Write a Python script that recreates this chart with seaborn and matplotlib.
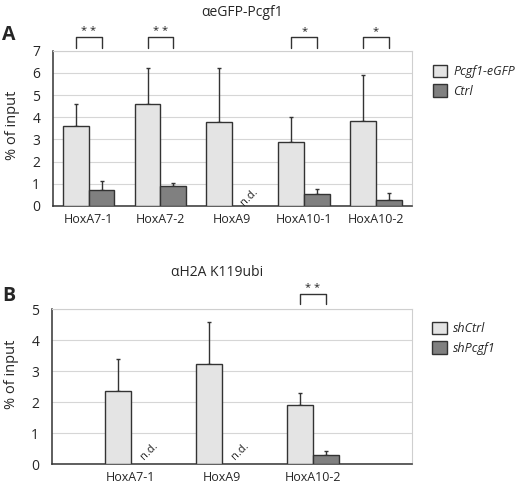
import numpy as np
import pandas as pd
import seaborn as sns
import matplotlib.pyplot as plt

# panel A: aeGFP-Pcgf1
genes_a = ['HoxA7-1', 'HoxA7-2', 'HoxA9', 'HoxA10-1', 'HoxA10-2']
pcgf1_egfp = [3.6, 4.62, 3.78, 2.9, 3.83]
pcgf1_egfp_err = [0.98, 1.58, 2.42, 1.1, 2.07]
ctrl = [0.73, 0.88, np.nan, 0.55, 0.28]
ctrl_err = [0.4, 0.17, np.nan, 0.2, 0.32]
stars_a = ['**', '**', '', '*', '*']

# panel B: aH2A K119ubi
genes_b = ['HoxA7-1', 'HoxA9', 'HoxA10-2']
shctrl = [2.37, 3.23, 1.9]
shctrl_err = [1.03, 1.37, 0.39]
shpcgf1 = [np.nan, np.nan, 0.28]
shpcgf1_err = [np.nan, np.nan, 0.13]
stars_b = ['', '', '**']

sns.set_style('white')
plt.rcParams['font.family'] = ['Open Sans', 'DejaVu Sans']

LIGHT = '#e4e4e4'
DARK = '#808080'
EDGE = '#333333'


def draw_panel(ax, genes, v1, e1, v2, e2, names, stars, ymax, width, xlim,
               br_lo, br_hi, nd_y, ylab_y):
    n = len(genes)
    df = pd.DataFrame({'gene': genes * 2,
                       'group': [names[0]] * n + [names[1]] * n,
                       'value': list(v1) + list(v2)})
    sns.barplot(data=df, x='gene', y='value', hue='group', hue_order=names,
                palette=[LIGHT, DARK], width=width, edgecolor=EDGE,
                linewidth=1, errorbar=None, ax=ax, zorder=3)
    x = np.arange(n)
    off = width / 4
    for xs, vals, errs in [(x - off, v1, e1), (x + off, v2, e2)]:
        vals = np.array(vals, dtype=float)
        errs = np.array(errs, dtype=float)
        ax.errorbar(xs, vals, yerr=[np.zeros(n), errs], fmt='none',
                    ecolor=EDGE, elinewidth=1, capsize=1.6, capthick=1,
                    zorder=2)
    # n.d. labels for missing bars
    for i in range(n):
        if np.isnan(v2[i]):
            ax.text(x[i] + off + 0.06, nd_y, 'n.d.', rotation=45, fontsize=8,
                    ha='center', va='center', color='#222222')
    # significance brackets
    for i, s in enumerate(stars):
        if not s:
            continue
        x0, x1 = x[i] - off, x[i] + off
        ax.plot([x0, x0, x1, x1], [br_lo, br_hi, br_hi, br_lo], color=EDGE,
                lw=1, clip_on=False)
        ax.text((x0 + x1) / 2, br_hi, ' '.join(s), ha='center', va='bottom',
                fontsize=8, color='#222222')

    ax.set_ylim(0, ymax)
    ax.set_xlim(*xlim)
    ax.set_yticks(range(ymax + 1))
    ax.set_xlabel('')
    ax.set_ylabel('% of input', fontsize=10.5)
    ax.yaxis.set_label_coords(-0.091, ylab_y)
    ax.tick_params(axis='y', length=0, pad=9, labelsize=10)
    ax.tick_params(axis='x', length=0, pad=5, labelsize=9)
    ax.set_axisbelow(True)
    ax.yaxis.grid(True, color='#d6d6d6', lw=0.8)
    for side in ['top', 'right']:
        ax.spines[side].set_color('#cfcfcf')
        ax.spines[side].set_linewidth(0.8)
    for side in ['left', 'bottom']:
        ax.spines[side].set_color(EDGE)
        ax.spines[side].set_linewidth(1.1)


fig = plt.figure(figsize=(5.2, 4.83), dpi=100)
ax_a = fig.add_axes([0.1013, 0.5735, 0.691, 0.3215])
ax_b = fig.add_axes([0.0994, 0.0393, 0.693, 0.3203])

draw_panel(ax_a, genes_a, pcgf1_egfp, pcgf1_egfp_err, ctrl, ctrl_err,
           ['Pcgf1-eGFP', 'Ctrl'], stars_a, 7, 0.72, (-0.5, 4.5),
           7.13, 7.63, 0.4, 0.52)
draw_panel(ax_b, genes_b, shctrl, shctrl_err, shpcgf1, shpcgf1_err,
           ['shCtrl', 'shPcgf1'], stars_b, 5, 0.57, (-0.87, 3.09),
           5.17, 5.49, 0.42, 0.58)

for ax, anchor in [(ax_a, (1.058, 0.91)), (ax_b, (1.056, 0.92))]:
    sns.move_legend(ax, loc='upper left', bbox_to_anchor=anchor,
                    frameon=False, title=None, fontsize=9, borderpad=0,
                    borderaxespad=0, handlelength=1.15, handleheight=1.15,
                    handletextpad=0.5, labelspacing=0.5)
    for t in ax.get_legend().get_texts():
        t.set_fontstyle('italic')

fig.text(242 / 520, 1 - 13 / 483, '\u03b1eGFP-Pcgf1', ha='center',
         va='center', fontsize=10)
fig.text(217 / 520, 1 - 272 / 483, '\u03b1H2A K119ubi', ha='center',
         va='center', fontsize=10)
fig.text(0.004, 1 - 40 / 483, 'A', fontsize=14, fontweight='bold')
fig.text(0.004, 1 - 301 / 483, 'B', fontsize=14, fontweight='bold')

fig.savefig('out.png', dpi=100)
